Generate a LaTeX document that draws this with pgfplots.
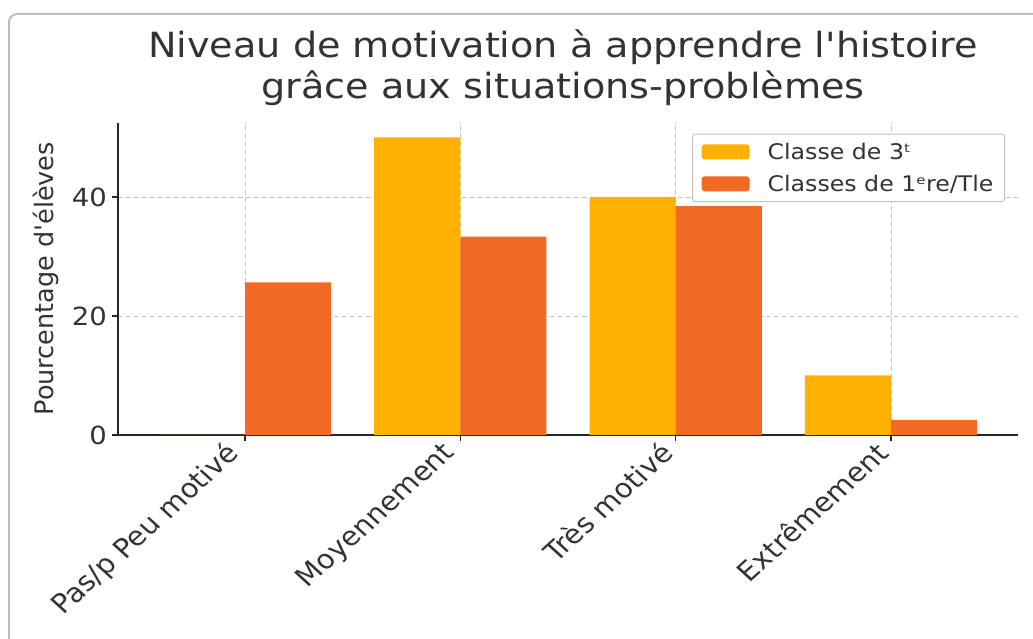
\documentclass[border=0pt]{standalone}
\usepackage{pgfplots}
\pgfplotsset{compat=1.18}
\usepackage{fontspec}
\setmainfont{DejaVu Sans}[FakeStretch=1.1, Ligatures=TeXOff]
\newfontfamily\plainfont{DejaVu Sans}[Ligatures=TeXOff]
\usepackage{graphicx}
\definecolor{txt}{RGB}{51,51,51}
\definecolor{axc}{RGB}{38,38,38}
\definecolor{c3}{RGB}{255,176,0}
\definecolor{c1}{RGB}{241,106,35}
\definecolor{gridc}{RGB}{195,195,195}
\definecolor{framec}{RGB}{190,190,190}
\newcommand{\xl}[1]{\scalebox{1.1}[1]{\rotatebox{45}{\plainfont\fontsize{26.5}{30}\selectfont #1}}}
\begin{document}
\begin{tikzpicture}[x=1pt,y=1pt]
\path[use as bounding box] (0,0) rectangle (1033,639);
\begin{scope}
\clip (0,0) rectangle (1033,639);
\draw[framec, line width=2pt, rounded corners=8pt] (9,-30) -- (9,625) -- (1060,625);
\end{scope}
\node[anchor=north, text=txt, font=\fontsize{34.7}{41}\selectfont, inner sep=0pt, align=center] at (563,609) {Niveau de motivation à apprendre l'histoire\\grâce aux situations-problèmes};
\begin{axis}[
  at={(118pt,204pt)}, anchor=south west,
  scale only axis, width=900pt, height=312.4pt,
  xmin=-0.59, xmax=3.59, ymin=0, ymax=52.5,
  axis x line*=bottom, axis y line*=left,
  axis line style={line width=1.8pt, color=axc},
  xtick={0,1,2,3},
  xticklabels={\xl{Pas/p Peu motivé},\xl{Moyennement},\xl{Très motivé},\xl{Extrêmement}},
  xticklabel style={anchor=north east, inner sep=0pt, text=txt, yshift=1pt},
  ytick={0,20,40},
  /pgf/number format/assume math mode=true,
  yticklabel style={font=\fontsize{25}{30}\selectfont, text=txt, inner sep=0pt, xshift=-5pt},
  tick align=outside, major tick length=6pt,
  tick style={line width=1.4pt, color=axc},
  grid=major,
  major grid style={dash pattern=on 5pt off 3pt, gridc, line width=0.9pt},
  ylabel={\plainfont\fontsize{25.5}{30}\selectfont Pourcentage d'élèves},
  ylabel style={at={(axis description cs:-0.08,0.5)}, anchor=center, text=txt},
  legend cell align=left,
  legend style={at={(0.9856,0.965)}, anchor=north east, draw=gridc, line width=1pt,
    rounded corners=3pt, fill=white, font=\fontsize{21.5}{24}\selectfont, text=txt,
    inner xsep=9pt, inner ysep=7pt, row sep=10pt,
    /tikz/every odd column/.style={column sep=16pt}},
]
\addplot[ybar, bar width=0.4, bar shift=-0.2, fill=c3, draw=none,
  legend image code/.code={\fill[c3] (0pt,-7.5pt) rectangle (48pt,7.5pt);}]
  coordinates {(0,0) (1,50) (2,40) (3,10)};
\addlegendentry{Classe de 3ᵗ}
\addplot[ybar, bar width=0.4, bar shift=0.2, fill=c1, draw=none,
  legend image code/.code={\fill[c1] (0pt,-7.5pt) rectangle (48pt,7.5pt);}]
  coordinates {(0,25.64) (1,33.33) (2,38.46) (3,2.56)};
\addlegendentry{Classes de 1ᵉre/Tle}
\end{axis}
\end{tikzpicture}
\end{document}
